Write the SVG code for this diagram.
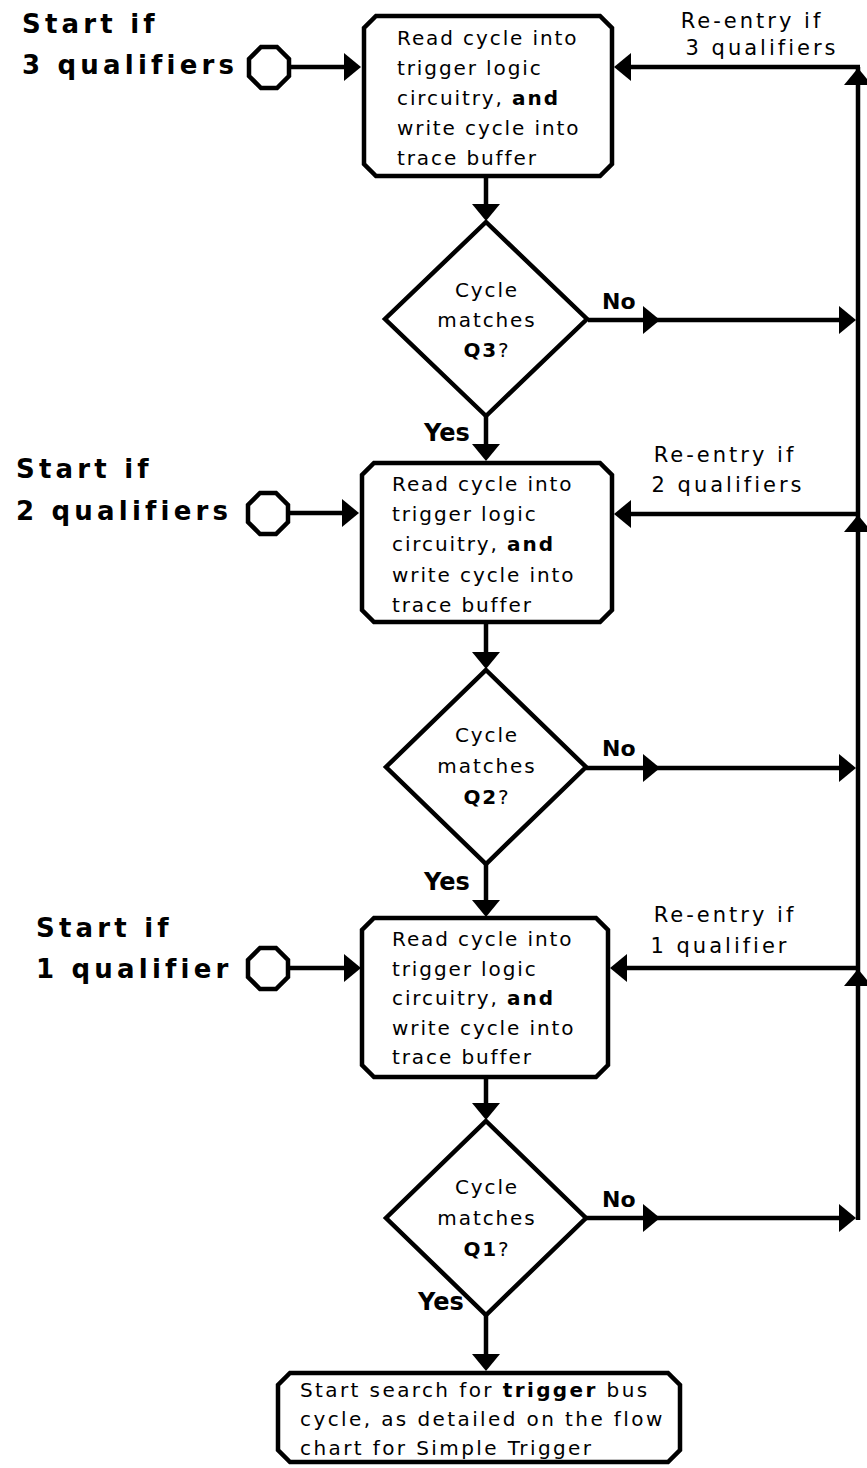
<svg xmlns="http://www.w3.org/2000/svg" xmlns:xlink="http://www.w3.org/1999/xlink" width="867" height="1468" viewBox="0 0 867 1468">
<style>
.shape{fill:#fff;stroke:#000;stroke-width:4.5;stroke-linejoin:miter}
.line{fill:none;stroke:#000;stroke-width:4.5}
.ah{fill:#000;stroke:none}
.start{font-family:"DejaVu Sans",sans-serif;font-weight:bold;font-size:26px;letter-spacing:4.2px;fill:#000}
.body{font-family:"DejaVu Sans",sans-serif;font-size:20px;letter-spacing:1.9px;fill:#000}
.endt{letter-spacing:2.4px}
.ctr{text-anchor:middle}
.b{font-weight:bold}
.re{font-family:"DejaVu Sans",sans-serif;font-size:21px;letter-spacing:3px;fill:#000;text-anchor:middle}
.no{font-family:"DejaVu Sans",sans-serif;font-weight:bold;font-size:22px;fill:#000}
.yes{font-family:"DejaVu Sans",sans-serif;font-weight:bold;font-size:24px;fill:#000}
</style>
<defs>
<path id="ah" class="ah" d="M0,0 L-17,-14 L-17,14 Z"/>
</defs>
<rect width="867" height="1468" fill="#fff"/>

<g id="connectors">
  <!-- start arrows -->
  <line class="line" x1="289" y1="67" x2="346" y2="67"/>
  <use xlink:href="#ah" transform="translate(361,67)"/>
  <line class="line" x1="288" y1="513" x2="344" y2="513"/>
  <use xlink:href="#ah" transform="translate(359,513)"/>
  <line class="line" x1="288" y1="968" x2="346" y2="968"/>
  <use xlink:href="#ah" transform="translate(361,968)"/>
  <!-- down flow -->
  <line class="line" x1="486" y1="176" x2="486" y2="206"/>
  <use xlink:href="#ah" transform="translate(486,221) rotate(90)"/>
  <line class="line" x1="486" y1="416" x2="486" y2="446"/>
  <use xlink:href="#ah" transform="translate(486,461) rotate(90)"/>
  <line class="line" x1="486" y1="622" x2="486" y2="654"/>
  <use xlink:href="#ah" transform="translate(486,669) rotate(90)"/>
  <line class="line" x1="486" y1="864" x2="486" y2="902"/>
  <use xlink:href="#ah" transform="translate(486,917) rotate(90)"/>
  <line class="line" x1="486" y1="1077" x2="486" y2="1105"/>
  <use xlink:href="#ah" transform="translate(486,1120) rotate(90)"/>
  <line class="line" x1="486" y1="1315" x2="486" y2="1356"/>
  <use xlink:href="#ah" transform="translate(486,1371) rotate(90)"/>
  <!-- No branches -->
  <line class="line" x1="588" y1="320" x2="842" y2="320"/>
  <use xlink:href="#ah" transform="translate(660,320)"/>
  <use xlink:href="#ah" transform="translate(856,320)"/>
  <line class="line" x1="586" y1="768" x2="842" y2="768"/>
  <use xlink:href="#ah" transform="translate(660,768)"/>
  <use xlink:href="#ah" transform="translate(856,768)"/>
  <line class="line" x1="586" y1="1218" x2="842" y2="1218"/>
  <use xlink:href="#ah" transform="translate(660,1218)"/>
  <use xlink:href="#ah" transform="translate(856,1218)"/>
  <!-- right return bus -->
  <line class="line" x1="858" y1="67" x2="858" y2="1220"/>
  <use xlink:href="#ah" transform="translate(858,68) rotate(-90)"/>
  <use xlink:href="#ah" transform="translate(858,515) rotate(-90)"/>
  <use xlink:href="#ah" transform="translate(858,969) rotate(-90)"/>
  <!-- re-entry lines -->
  <line class="line" x1="860" y1="67" x2="630" y2="67"/>
  <use xlink:href="#ah" transform="translate(614,67) rotate(180)"/>
  <line class="line" x1="860" y1="514" x2="630" y2="514"/>
  <use xlink:href="#ah" transform="translate(614,514) rotate(180)"/>
  <line class="line" x1="860" y1="968" x2="626" y2="968"/>
  <use xlink:href="#ah" transform="translate(610,968) rotate(180)"/>
  <!-- labels -->
  <text class="no" x="602" y="309">No</text>
  <text class="no" x="602" y="756">No</text>
  <text class="no" x="602" y="1207">No</text>
  <text class="yes" x="424" y="441">Yes</text>
  <text class="yes" x="424" y="890">Yes</text>
  <text class="yes" x="418" y="1310">Yes</text>
  <text class="re" x="752" y="28">Re-entry if</text>
  <text class="re" x="762" y="55">3 qualifiers</text>
  <text class="re" x="725" y="462">Re-entry if</text>
  <text class="re" x="728" y="492">2 qualifiers</text>
  <text class="re" x="725" y="922">Re-entry if</text>
  <text class="re" x="720" y="953">1 qualifier</text>
</g>

<g id="start3">
  <text class="start" x="22" y="33">Start if</text>
  <text class="start" x="22" y="74">3 qualifiers</text>
  <polygon class="shape" points="261,47 277,47 289,59 289,76 277,88 261,88 249,76 249,59"/>
</g>
<g id="start2">
  <text class="start" x="16" y="478">Start if</text>
  <text class="start" x="16" y="520">2 qualifiers</text>
  <polygon class="shape" points="260,493 276,493 288,505 288,522 276,534 260,534 248,522 248,505"/>
</g>
<g id="start1">
  <text class="start" x="36" y="937">Start if</text>
  <text class="start" x="36" y="978">1 qualifier</text>
  <polygon class="shape" points="260,948 276,948 288,960 288,977 276,989 260,989 248,977 248,960"/>
</g>

<g id="box1">
  <polygon class="shape" points="376,16 600,16 612,28 612,164 600,176 376,176 364,164 364,28"/>
  <text class="body" x="397" y="45">Read cycle into</text>
  <text class="body" x="397" y="75">trigger logic</text>
  <text class="body" x="397" y="105">circuitry, <tspan class="b">and</tspan></text>
  <text class="body" x="397" y="135">write cycle into</text>
  <text class="body" x="397" y="165">trace buffer</text>
</g>
<g id="dec1">
  <polygon class="shape" points="486,222 587,319 486,416 385,319"/>
  <text class="body ctr" x="487" y="297">Cycle</text>
  <text class="body ctr" x="487" y="327">matches</text>
  <text class="body ctr" x="487" y="357"><tspan class="b">Q3</tspan>?</text>
</g>
<g id="box2">
  <polygon class="shape" points="374,463 600,463 612,475 612,610 600,622 374,622 362,610 362,475"/>
  <text class="body" x="392" y="491">Read cycle into</text>
  <text class="body" x="392" y="521">trigger logic</text>
  <text class="body" x="392" y="551">circuitry, <tspan class="b">and</tspan></text>
  <text class="body" x="392" y="582">write cycle into</text>
  <text class="body" x="392" y="612">trace buffer</text>
</g>
<g id="dec2">
  <polygon class="shape" points="486,670 586,767 486,864 386,767"/>
  <text class="body ctr" x="487" y="742">Cycle</text>
  <text class="body ctr" x="487" y="773">matches</text>
  <text class="body ctr" x="487" y="804"><tspan class="b">Q2</tspan>?</text>
</g>
<g id="box3">
  <polygon class="shape" points="374,918 596,918 608,930 608,1065 596,1077 374,1077 362,1065 362,930"/>
  <text class="body" x="392" y="946">Read cycle into</text>
  <text class="body" x="392" y="976">trigger logic</text>
  <text class="body" x="392" y="1005">circuitry, <tspan class="b">and</tspan></text>
  <text class="body" x="392" y="1035">write cycle into</text>
  <text class="body" x="392" y="1064">trace buffer</text>
</g>
<g id="dec3">
  <polygon class="shape" points="486,1121 586,1218 486,1315 386,1218"/>
  <text class="body ctr" x="487" y="1194">Cycle</text>
  <text class="body ctr" x="487" y="1225">matches</text>
  <text class="body ctr" x="487" y="1256"><tspan class="b">Q1</tspan>?</text>
</g>
<g id="end">
  <polygon class="shape" points="290,1373 668,1373 680,1385 680,1450 668,1462 290,1462 278,1450 278,1385"/>
  <text class="body endt" x="300" y="1397">Start search for <tspan class="b">trigger</tspan> bus</text>
  <text class="body endt" x="300" y="1426">cycle, as detailed on the flow</text>
  <text class="body endt" x="300" y="1455">chart for Simple Trigger</text>
</g>
</svg>
